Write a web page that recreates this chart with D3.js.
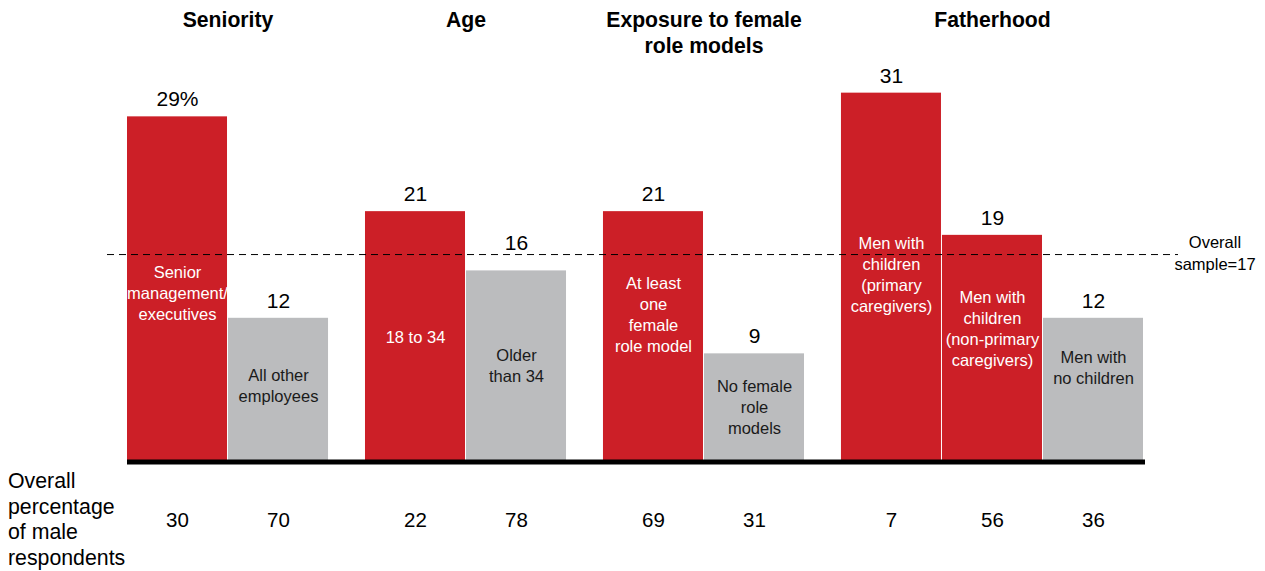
<!DOCTYPE html>
<html>
<head>
<meta charset="utf-8">
<script src="https://cdn.jsdelivr.net/npm/d3@7"></script>
<style>
  html, body { margin: 0; padding: 0; background: #ffffff; }
  svg { display: block; font-family: "Liberation Sans", Arial, sans-serif; }
</style>
</head>
<body>
<div id="chart"></div>
<script>
// ---- data ----
const groupTitles = [["Seniority"], ["Age"], ["Exposure to female", "role models"], ["Fatherhood"]];
const barGroup = [0, 0, 1, 1, 2, 2, 3, 3, 3];
const barLabels = [
  ["Senior", "management/", "executives"],
  ["All other", "employees"],
  ["18 to 34"],
  ["Older", "than 34"],
  ["At least", "one", "female", "role model"],
  ["No female", "role", "models"],
  ["Men with", "children", "(primary", "caregivers)"],
  ["Men with", "children", "(non-primary", "caregivers)"],
  ["Men with", "no children"]
];
const values = [29, 12, 21, 16, 21, 9, 31, 19, 12];
const highlighted = [true, false, true, false, true, false, true, true, false];
const shares = [30, 70, 22, 78, 69, 31, 7, 56, 36];
const overallSample = 17;
const overallLabel = ["Overall", "sample=17"];
const shareTitle = ["Overall", "percentage", "of male", "respondents"];

// ---- layout ----
const W = 1265, H = 571;
const RED = "#cc1f27", GREY = "#bbbcbe";
const gapUnits = 0.356;
const nBars = values.length;
const nGroups = groupTitles.length;
const x = d3.scaleLinear().domain([0, nBars + gapUnits * (nGroups - 1)]).range([127, 1144]);
const y = d3.scaleLinear().domain([0, 31]).range([460, 460 - 31 * 11.85]);
const start = i => i + barGroup[i] * gapUnits;
const barW = x(1) - x(0) - 1;
const cx = i => x(start(i)) + (x(1) - x(0)) / 2;
// small vertical nudges of labels
const labelShift = [5, -3, 1, 0, -21, 0, -2, -19, -21];
const valueShift = [0, 0, 0, -10, 0, 0, 0, 0, 0];

const svg = d3.select("#chart").append("svg").attr("width", W).attr("height", H);

function txt(g, tx, ty, str, size, opts = {}) {
  return g.append("text")
    .attr("x", tx).attr("y", ty)
    .attr("text-anchor", opts.anchor || "middle")
    .attr("font-size", size)
    .attr("font-weight", opts.weight || "normal")
    .attr("fill", opts.fill || "#000")
    .text(str);
}

// bars
const idx = d3.range(nBars);
svg.append("g").selectAll("rect").data(idx).join("rect")
  .attr("x", i => x(start(i)))
  .attr("width", barW)
  .attr("y", i => y(values[i]))
  .attr("height", i => y(0) - y(values[i]))
  .attr("fill", i => highlighted[i] ? RED : GREY);

// overall sample dashed line
svg.append("line")
  .attr("x1", 107).attr("x2", 1178)
  .attr("y1", y(overallSample) - 4).attr("y2", y(overallSample) - 4)
  .attr("stroke", "#000").attr("stroke-width", 1)
  .attr("stroke-dasharray", "7,5");

const lab = svg.append("g");
overallLabel.forEach((t, k) => txt(lab, 1215, 248 + k * 22, t, 16.5));

// baseline
svg.append("line")
  .attr("x1", x(0)).attr("x2", x(nBars + gapUnits * (nGroups - 1)) + 1)
  .attr("y1", 462).attr("y2", 462)
  .attr("stroke", "#000").attr("stroke-width", 5);

// value labels
idx.forEach(i => {
  const t = i === 0 ? values[i] + "%" : String(values[i]);
  txt(lab, cx(i), y(values[i]) - 10 + valueShift[i], t, 21);
});

// in-bar labels
const lh = 21;
idx.forEach(i => {
  const lines = barLabels[i];
  const mid = (y(values[i]) + y(0)) / 2 + labelShift[i];
  const top = mid - (lines.length - 1) * lh / 2;
  lines.forEach((t, k) => txt(lab, cx(i), top + k * lh + 6, t, 16.5,
    { fill: highlighted[i] ? "#ffffff" : "#1a1a1a" }));
});

// group titles
groupTitles.forEach((lines, g) => {
  const members = idx.filter(i => barGroup[i] === g);
  const gx = (x(start(members[0])) + x(start(members[members.length - 1]) + 1)) / 2;
  lines.forEach((t, k) => txt(lab, gx, 27 + k * 26, t, 21.2, { weight: "bold" }));
});

// share row
shareTitle.forEach((t, k) => txt(lab, 8, 488 + k * 25.7, t, 21.3, { anchor: "start" }));
idx.forEach(i => txt(lab, cx(i), 526.5, String(shares[i]), 20.5));
</script>
</body>
</html>
